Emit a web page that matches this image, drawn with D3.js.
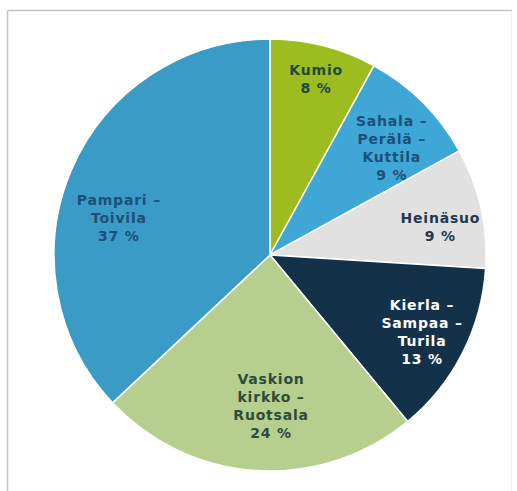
<!DOCTYPE html>
<html><head><meta charset="utf-8">
<script src="https://cdn.jsdelivr.net/npm/d3@7"></script>
<style>html,body{margin:0;padding:0;background:#fff;}svg{display:block;}</style>
</head><body>
<svg id="chart" width="517" height="491"></svg>
<script>
const categories = ["Kumio", "Sahala – Perälä – Kuttila", "Heinäsuo", "Kierla – Sampaa – Turila", "Vaskion kirkko – Ruotsala", "Pampari – Toivila"];
const labelLines = [["Kumio"], ["Sahala –", "Perälä –", "Kuttila"], ["Heinäsuo"], ["Kierla –", "Sampaa –", "Turila"], ["Vaskion", "kirkko –", "Ruotsala"], ["Pampari –", "Toivila"]];
const values = [8, 9, 9, 13, 24, 37];
const colors = ["#9cbc1f", "#3ea7d6", "#e1e1e1", "#13324a", "#b6cf8e", "#3a9bc7"];
const textColors = ["#1f4a3a", "#1d4f7a", "#23384f", "#ffffff", "#2e4a3a", "#1d4f7a"];
// label placement: radius fraction and angle offset (deg), pixel nudges
const labelPos = [
  {f: 0.84, da: 0, dx: 1, dy: 0},
  {f: 0.75, da: 3.7, dx: 0, dy: 0},
  {f: 0.80, da: 3, dx: 0, dy: 1},
  {f: 0.79, da: 0, dx: 0, dy: 0},
  {f: 0.70, da: -4, dx: 0, dy: 0},
  {f: 0.72, da: -9.8, dx: 0, dy: 0}
];

const svg = d3.select("#chart");
const W = 517, H = 491;
// frame
svg.append("line").attr("x1", 7.5).attr("y1", 10.5).attr("x2", 512).attr("y2", 10.5).attr("stroke", "#c4c4c4").attr("stroke-width", 1.5);
svg.append("line").attr("x1", 7.5).attr("y1", 10.5).attr("x2", 7.5).attr("y2", H).attr("stroke", "#c4c4c4").attr("stroke-width", 1.5);
svg.append("line").attr("x1", 511.5).attr("y1", 11).attr("x2", 511.5).attr("y2", H).attr("stroke", "#f2f2f2").attr("stroke-width", 1);

const cx = 270, cy = 255, r = 216;
const g = svg.append("g").attr("transform", `translate(${cx},${cy})`);
const pie = d3.pie().sort(null).value(d => d)(values);
const arc = d3.arc().innerRadius(0).outerRadius(r);

g.selectAll("path.slice").data(pie).enter().append("path")
  .attr("class", "slice")
  .attr("d", arc)
  .attr("fill", (d, i) => colors[i])
  .attr("stroke", "#ffffff")
  .attr("stroke-width", 1.5)
  .attr("stroke-linejoin", "round");

const lh = 18;
pie.forEach((d, i) => {
  const p = labelPos[i];
  const a = (d.startAngle + d.endAngle) / 2 + p.da * Math.PI / 180;
  const x = Math.sin(a) * r * p.f + p.dx;
  const y = -Math.cos(a) * r * p.f + p.dy;
  const lines = labelLines[i].concat([d.data + " %"]);
  const t = g.append("text")
    .attr("text-anchor", "middle")
    .attr("font-family", "DejaVu Sans, Verdana, sans-serif")
    .attr("font-weight", "bold")
    .attr("font-size", "14px")
    .attr("letter-spacing", "0.8px")
    .attr("fill", textColors[i]);
  const n = lines.length;
  lines.forEach((ln, k) => {
    t.append("tspan").attr("x", x).attr("y", y + (k - (n - 1) / 2) * lh).attr("dy", "0.35em").text(ln);
  });
});
</script>
</body></html>
